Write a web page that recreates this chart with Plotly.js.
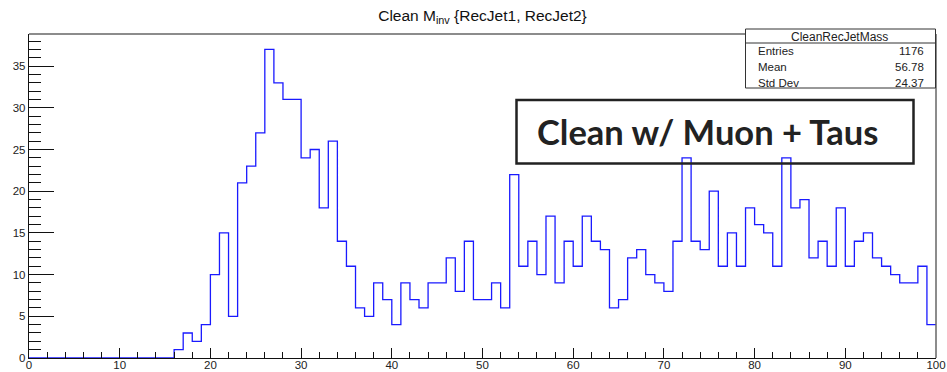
<!DOCTYPE html>
<html><head><meta charset="utf-8">
<script src="https://cdn.plot.ly/plotly-3.0.1.min.js"></script>
<style>html,body{margin:0;padding:0;background:#fff;overflow:hidden}</style>
</head><body><div id="chart" style="width:947px;height:372px"></div>
<script>
// Histogram binning: 100 bins from 0 to 100
const binLow = 0;
const binWidth = 1;
const counts = [
  0,0,0,0,0,0,0,0,0,0,
  0,0,0,0,0,0,1,3,2,4,
  10,15,5,21,23,27,37,33,31,31,
  24,25,18,26,14,11,6,5,9,7,
  4,9,7,6,9,9,12,8,14,7,
  7,9,6,22,11,14,10,17,9,14,
  11,17,14,13,6,7,12,13,10,9,
  8,14,24,14,13,20,11,15,11,18,
  16,15,11,24,18,19,12,14,11,18,
  11,14,15,12,11,10,9,9,11,4
];
const titleText = 'Clean M<sub>inv</sub> {RecJet1, RecJet2}';
const statsName = 'CleanRecJetMass';
const statsLabels = ['Entries', 'Mean', 'Std Dev'];
const statsValues = ['1176', '56.78', '24.37'];
const boxText = 'Clean w/ Muon + Taus';
const xTickVals = [0,10,20,30,40,50,60,70,80,90,100];
const yTickVals = [0,5,10,15,20,25,30,35];

// step outline points from bin edges
const xs = [], ys = [];
counts.forEach((c, i) => { xs.push(binLow + i * binWidth); ys.push(c); });
xs.push(binLow + counts.length * binWidth); ys.push(counts[counts.length - 1]);

const W = 947, H = 372;
const mL = 29, mR = 11, mT = 34, mB = 14;
const pw = W - mL - mR, ph = H - mT - mB;
const px = p => (p - mL) / pw;
const py = p => (H - mB - p) / ph;

const lab = {family: 'Liberation Sans, Arial, sans-serif', size: 11.5, color: '#222'};
const small = {family: 'Liberation Sans, Arial, sans-serif', size: 11.5, color: '#222'};

const annotations = [
  {xref:'paper', yref:'paper', x: px(839), y: py(37), text: statsName, showarrow:false,
   font: {family: 'Liberation Sans, Arial, sans-serif', size: 12, color: '#222'}, xanchor:'center', yanchor:'middle'},
  {xref:'paper', yref:'paper', x: px(707), y: py(131), text: '<b>' + boxText + '</b>', showarrow:false,
   font:{family:'Lato, Open Sans, sans-serif', size:34.5, color:'#222'}, xanchor:'center', yanchor:'middle'}
];
const rowY = [51, 67, 82.5];
statsLabels.forEach((l, i) => {
  annotations.push({xref:'paper', yref:'paper', x: px(756), y: py(rowY[i]), text: l, showarrow:false, font: small, xanchor:'left', yanchor:'middle'});
  annotations.push({xref:'paper', yref:'paper', x: px(926), y: py(rowY[i]), text: statsValues[i], showarrow:false, font: small, xanchor:'right', yanchor:'middle'});
});

const shapes = [
  // top and right frame lines
  {type:'line', xref:'paper', yref:'paper', x0:0, x1:1, y0:1, y1:1, line:{color:'#666', width:1.5}},
  {type:'line', xref:'paper', yref:'paper', x0:1, x1:1, y0:0, y1:1, line:{color:'#666', width:1.5}},
  // stats box
  {type:'rect', xref:'paper', yref:'paper', x0:px(745.5), x1:px(935.5), y0:py(88), y1:py(29), line:{color:'#333', width:1}, fillcolor:'#fff'},
  {type:'line', xref:'paper', yref:'paper', x0:px(745.5), x1:px(935.5), y0:py(43), y1:py(43), line:{color:'#333', width:1}},
  // label box
  {type:'rect', xref:'paper', yref:'paper', x0:px(516.5), x1:px(913.5), y0:py(163.5), y1:py(100), line:{color:'#222', width:2.5}, fillcolor:'rgba(0,0,0,0)'}
];

const trace = {
  type:'scatter', mode:'lines', x: xs, y: ys,
  line:{shape:'hv', color:'#1a1aff', width:1.3},
  hoverinfo:'skip', cliponaxis:true
};

const layout = {
  width: W, height: H,
  margin:{l:mL, r:mR, t:mT, b:mB, pad:0},
  paper_bgcolor:'#fff', plot_bgcolor:'#fff',
  showlegend:false,
  title:{text: titleText, x: px(482.5), xref:'paper', xanchor:'center', y: 1 - 15.5/H, yref:'container', yanchor:'middle',
         font:{family:'Liberation Sans, Arial, sans-serif', size:15.5, color:'#111'}},
  xaxis:{range:[0,100], tickvals:xTickVals, ticks:'inside', ticklen:10, tickwidth:1, tickcolor:'#111',
         minor:{dtick:2, tick0:0, ticks:'inside', ticklen:6, tickcolor:'#111', tickwidth:1, showgrid:false},
         showgrid:false, zeroline:false, showline:true, linecolor:'#111', linewidth:1.2,
         tickfont: lab, ticklabelstandoff: -4},
  yaxis:{range:[0,38.85], tickvals:yTickVals, ticks:'inside', ticklen:25, tickwidth:1, tickcolor:'#111',
         minor:{dtick:1, tick0:0, ticks:'inside', ticklen:12, tickcolor:'#111', tickwidth:1, showgrid:false},
         showgrid:false, zeroline:false, showline:true, linecolor:'#111', linewidth:1.2,
         tickfont: lab, ticklabelstandoff: 0},
  annotations, shapes
};

Plotly.newPlot('chart', [trace], layout, {staticPlot:true, displayModeBar:false});
</script>
</body></html>
